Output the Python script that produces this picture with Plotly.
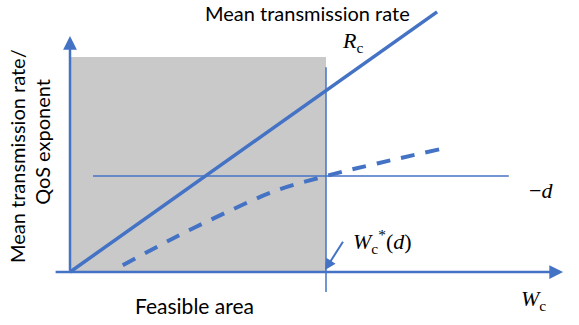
import plotly.graph_objects as go

# ---- data (abstract schematic units) ----
W_STAR = 5.0            # W_c*(d): bandwidth where QoS exponent meets -d
NEG_D = 1.875           # level of the -d threshold
FEASIBLE_TOP = 4.2      # top of the feasible-area shading

rate_w = [0.0, 7.17]            # mean transmission rate R_c (linear)
rate_val = [0.0, 5.08]

qos_w = [1.03, 2.0, 3.0, 4.0, 5.0, 6.0, 7.23]   # QoS exponent (concave)
qos_val = [0.13, 0.65, 1.14, 1.58, 1.875, 2.12, 2.40]

threshold_w = [0.45, 8.57]      # horizontal -d line extent
star_y = [-0.39, 4.0]           # vertical W_c* marker extent

x_axis_ext = [-0.31, 9.63]
y_axis_top = 4.61

labels = {
    "rate": "Mean transmission rate",
    "qos": "QoS exponent",
    "feasible": "Feasible area",
    "ytitle1": "Mean transmission rate/",
    "ytitle2": "QoS exponent",
}

BLUE = "#4472C4"
GRAY = "#C9C9C9"
SANS = "Lato, 'Open Sans', sans-serif"
SERIF = "'Liberation Serif', 'DejaVu Serif', serif"

fig = go.Figure()

# feasible area shading
fig.add_shape(type="rect", x0=0, x1=W_STAR, y0=0, y1=FEASIBLE_TOP,
              fillcolor=GRAY, line_width=0, layer="below")

# -d threshold line
fig.add_trace(go.Scatter(x=threshold_w, y=[NEG_D, NEG_D], mode="lines",
                         line=dict(color=BLUE, width=1.5), hoverinfo="skip"))
# W_c* vertical marker
fig.add_trace(go.Scatter(x=[W_STAR, W_STAR], y=star_y, mode="lines",
                         line=dict(color=BLUE, width=1.5), hoverinfo="skip"))
# mean transmission rate
fig.add_trace(go.Scatter(x=rate_w, y=rate_val, mode="lines",
                         line=dict(color=BLUE, width=3.5), hoverinfo="skip"))
# QoS exponent
fig.add_trace(go.Scatter(x=qos_w, y=qos_val, mode="lines",
                         line=dict(color=BLUE, width=4, dash="14px,11px",
                                   shape="spline", smoothing=1.0),
                         hoverinfo="skip"))

# axes drawn as arrows
fig.add_annotation(x=x_axis_ext[1], y=0, ax=x_axis_ext[0], ay=0,
                   xref="x", yref="y", axref="x", ayref="y", text="",
                   showarrow=True, arrowhead=2, arrowsize=1.1,
                   arrowwidth=2.5, arrowcolor=BLUE)
fig.add_annotation(x=0, y=y_axis_top, ax=0, ay=0,
                   xref="x", yref="y", axref="x", ayref="y", text="",
                   showarrow=True, arrowhead=2, arrowsize=1.1,
                   arrowwidth=2.5, arrowcolor=BLUE)
# pointer to W_c*(d)
fig.add_annotation(x=W_STAR - 0.02, y=0.04, ax=5.35, ay=0.62,
                   xref="x", yref="y", axref="x", ayref="y", text="",
                   showarrow=True, arrowhead=2, arrowsize=1.1,
                   arrowwidth=2, arrowcolor=BLUE)

def label(x, y, text, font=SANS, size=20, **kw):
    fig.add_annotation(x=x, y=y, xref="x", yref="y", text=text,
                       showarrow=False, font=dict(family=font, size=size,
                                                  color="black"), **kw)

label(4.63, 5.06, labels["rate"])
label(5.52, 4.5, "<i>R</i><sub>c</sub>", font=SERIF, size=22)
label(9.97, 2.78, labels["qos"], xanchor="right")
label(9.2, 1.6, "\u2212<i>d</i>", font=SERIF, size=22)
label(6.1, 0.6, "<i>W</i><sub>c</sub><sup>*</sup>(<i>d</i>)", font=SERIF, size=22)
label(9.06, -0.55, "<i>W</i><sub>c</sub>", font=SERIF, size=22)
label(2.44, -0.65, labels["feasible"], size=21)
label(-1.03, 2.27, labels["ytitle1"], textangle=-90)
label(-0.54, 2.55, labels["ytitle2"], textangle=-90)

fig.update_layout(
    width=579, height=325,
    margin=dict(l=0, r=0, t=0, b=0),
    paper_bgcolor="white", plot_bgcolor="white",
    showlegend=False,
    xaxis=dict(range=[-1.3672, 9.9414], visible=False, fixedrange=True),
    yaxis=dict(range=[-1.035, 5.3125], visible=False, fixedrange=True),
)

fig.write_html("out.html")
